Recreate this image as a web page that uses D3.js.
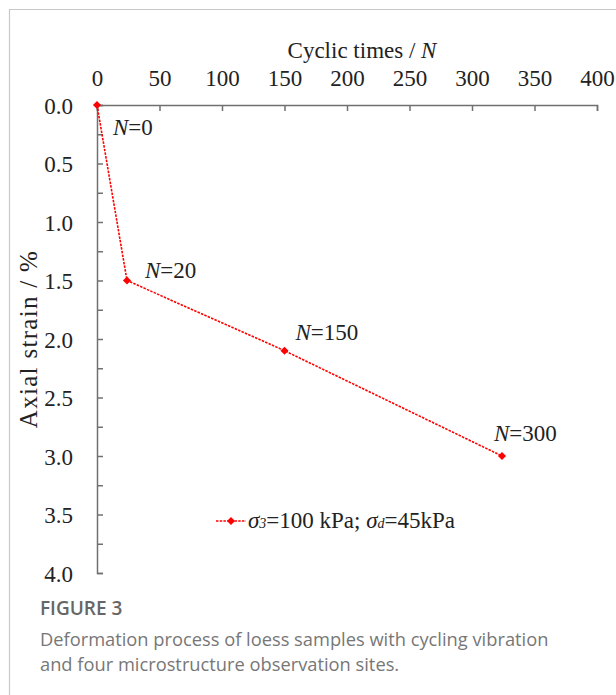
<!DOCTYPE html>
<html>
<head>
<meta charset="utf-8">
<script src="https://cdn.jsdelivr.net/npm/d3@7"></script>
<style>
  body { margin: 0; background: #fff; }
  svg text { font-family: "Liberation Serif", "Times New Roman", serif; }
</style>
</head>
<body>
<svg width="616" height="695"></svg>
<script>
const cycles = [0, 24, 150, 324];
const strain = [0, 1.5, 2.1, 3.0];
const pointLabels = ['0', '20', '150', '300'];
const xTicks = [0, 50, 100, 150, 200, 250, 300, 350, 400];
const yTicks = d3.range(0, 4.001, 0.25);

const svg = d3.select('svg');
const width = +svg.attr('width');
const height = +svg.attr('height');

// frame of the figure panel
svg.append('path')
	.attr('d', `M9.5,${height} V9.5 H${width}`)
	.attr('fill', 'none')
	.attr('stroke', '#c8c8c8')
	.attr('stroke-width', 1.2);

const x = d3.scaleLinear().domain([0, 400]).range([97, 597]);
const y = d3.scaleLinear().domain([0, 4]).range([105, 573]);

const axisColor = '#707070';
const fs = '23px';

const xAxis = svg.append('g')
	.attr('transform', `translate(0, ${y(0)})`)
	.call(d3.axisTop(x).tickValues(xTicks).tickSize(-6).tickPadding(19).tickFormat(d3.format('d')));

const yAxis = svg.append('g')
	.attr('transform', `translate(${x(0)}, 0)`)
	.call(d3.axisLeft(y).tickValues(yTicks).tickSize(-6).tickPadding(24)
		.tickFormat(d => (Math.abs(d * 2 - Math.round(d * 2)) < 1e-6 ? d3.format('.1f')(d) : '')));

[xAxis, yAxis].forEach(a => {
	a.select('.domain').attr('stroke', axisColor).attr('stroke-width', 1.5);
	a.selectAll('.tick line').attr('stroke', axisColor).attr('stroke-width', 1.5);
	a.selectAll('.tick text')
		.attr('fill', '#222')
		.style('font-size', fs)
		.style('font-family', '"Liberation Serif", serif');
});
yAxis.selectAll('.tick text').attr('dy', '0.35em');

// axis titles
const xTitle = svg.append('text')
	.attr('x', 362)
	.attr('y', 58)
	.attr('text-anchor', 'middle')
	.style('font-size', fs)
	.attr('fill', '#222');
xTitle.append('tspan').text('Cyclic times / ');
xTitle.append('tspan').attr('font-style', 'italic').text('N');

svg.append('text')
	.attr('transform', `translate(37, 339) rotate(-90)`)
	.attr('text-anchor', 'middle')
	.style('font-size', '25px')
	.style('letter-spacing', '1.3px')
	.attr('fill', '#222')
	.text('Axial strain / %');

// data line
const pts = cycles.map((c, i) => ({ c, s: strain[i], label: pointLabels[i] }));
const red = '#ff0000';

svg.append('path')
	.datum(pts)
	.attr('fill', 'none')
	.attr('stroke', red)
	.attr('stroke-width', 1.6)
	.attr('stroke-dasharray', '2.5,1.2')
	.attr('d', d3.line().x(d => x(d.c)).y(d => y(d.s)));

const diamond = d3.symbol().type(d3.symbolDiamond2).size(42);

svg.selectAll('.pt')
	.data(pts)
	.join('path')
	.attr('class', 'pt')
	.attr('transform', d => `translate(${x(d.c)}, ${y(d.s)})`)
	.attr('d', diamond)
	.attr('fill', red);

// point labels
const labelOffsets = [[16, 30], [18, -3], [11, -11], [-8, -15]];
const lbl = svg.selectAll('.plabel')
	.data(pts)
	.join('text')
	.attr('class', 'plabel')
	.attr('x', (d, i) => x(d.c) + labelOffsets[i][0])
	.attr('y', (d, i) => y(d.s) + labelOffsets[i][1])
	.style('font-size', fs)
	.attr('fill', '#222');
lbl.append('tspan').attr('font-style', 'italic').text('N');
lbl.append('tspan').text(d => '=' + d.label);

// legend
const lg = svg.append('g').attr('transform', 'translate(216, 521)');
lg.append('line')
	.attr('x1', 0).attr('x2', 30)
	.attr('stroke', red)
	.attr('stroke-width', 1.6)
	.attr('stroke-dasharray', '2.5,1.2');
lg.append('path').attr('transform', 'translate(15, 0)').attr('d', diamond).attr('fill', red);
const lt = lg.append('text')
	.attr('x', 32)
	.attr('y', 7)
	.style('font-size', fs)
	.attr('fill', '#222');
lt.append('tspan').attr('font-style', 'italic').text('σ');
lt.append('tspan').attr('font-style', 'italic').style('font-size', '14px').text('3');
lt.append('tspan').text('=100 kPa; ');
lt.append('tspan').attr('font-style', 'italic').text('σ');
lt.append('tspan').attr('font-style', 'italic').style('font-size', '14px').text('d');
lt.append('tspan').text('=45kPa');

// caption
const cap = svg.append('g');
cap.append('text')
	.attr('x', 40).attr('y', 615)
	.style('font-family', '"Open Sans", sans-serif')
	.style('font-size', '19px')
	.style('font-weight', 600)
	.attr('fill', '#666')
	.text('FIGURE 3');
const capLines = [
	'Deformation process of loess samples with cycling vibration',
	'and four microstructure observation sites.'
];
cap.selectAll('.cl')
	.data(capLines)
	.join('text')
	.attr('class', 'cl')
	.attr('x', 40)
	.attr('y', (d, i) => 646 + i * 25)
	.style('font-family', '"Open Sans", sans-serif')
	.style('font-size', '18.3px')
	.attr('fill', '#777')
	.text(d => d);
</script>
</body>
</html>
